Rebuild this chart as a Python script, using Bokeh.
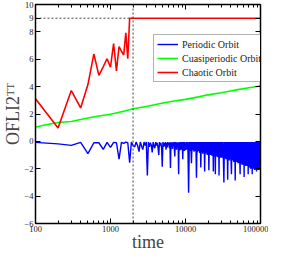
from bokeh.plotting import figure
from bokeh.models import (LogAxis, LinearAxis, FixedTicker, LogTicker, PrintfTickFormatter,
                          CustomJSTickFormatter, Legend, LegendItem, Span, Range1d)
from bokeh.embed import file_html
from bokeh.resources import INLINE

# ---------------- data ----------------
red_t = [100, 200, 300, 400, 500, 600, 700, 800, 900, 1000, 1100, 1200, 1300, 1400,
         1500, 1600, 1700, 1800, 1900, 100000]
red_v = [3.11, 0.98, 3.71, 2.44, 4.15, 6.38, 4.82, 5.45, 6.04, 5.42, 7.15, 5.15, 6.93,
         6.6, 6.31, 7.93, 6.04, 9.0, 9.0, 9.0]

green_t = [100, 150, 200, 300, 400, 500, 700, 1000, 1500, 2000, 3000, 4000, 5000, 7000,
           10000, 15000, 20000, 30000, 40000, 50000, 70000, 100000]
green_v = [1.05, 1.25, 1.38, 1.45, 1.6, 1.71, 1.85, 1.98, 2.2, 2.38, 2.55, 2.7, 2.8, 2.95,
           3.07, 3.25, 3.4, 3.55, 3.68, 3.78, 3.92, 4.05]

blue_t = list(range(100, 10001, 100)) + list(range(10250, 30001, 250)) + list(range(30500, 100001, 500))
blue_v = [
    -0.07, -0.18, -0.29, -0.07, -0.89, -0.1, -0.1, -0.58, -0.07, -0.44,
    -0.07, -0.1, -1.29, -0.07, -0.15, -0.05, -0.1, -1.55, -0.05, -0.3,
    -0.4, -0.05, -0.3, -0.75, -0.05, -0.35, -0.6, -0.05, -0.3, -0.05,
    -2.5, -0.05, -0.4, -0.1, -0.3, -0.8, -0.05, -0.35, -0.5, -0.05,
    -0.3, -0.1, -0.45, -1.0, -0.05, -0.3, -0.1, -0.5, -1.85, -0.05,
    -0.4, -0.1, -0.35, -0.05, -0.6, -0.1, -0.45, -0.05, -0.3, -0.1,
    -0.5, -0.05, -1.95, -0.1, -0.4, -0.05, -0.55, -0.1, -0.35, -0.05,
    -0.5, -1.1, -0.05, -0.45, -0.1, -0.6, -0.05, -0.4, -0.1, -0.55,
    -2.4, -0.05, -0.5, -0.1, -0.65, -0.05, -0.45, -0.1, -0.6, -0.05,
    -0.5, -1.3, -0.05, -0.55, -0.1, -0.7, -0.05, -0.5, -0.1, -0.65,
    # 10250 .. 30000 step 250
    -0.05, -0.6, -0.05, -3.75, -0.05, -0.7, -0.05, -1.6, -0.05, -0.65,
    -0.05, -0.75, -0.05, -0.7, -0.05, -2.65, -0.05, -0.8, -0.05, -0.7,
    -0.05, -0.85, -0.05, -1.9, -0.05, -0.8, -0.05, -0.9, -0.05, -0.8,
    -0.05, -2.2, -0.05, -0.9, -0.05, -0.85, -0.05, -1.0, -0.05, -0.9,
    -0.05, -2.1, -0.05, -0.95, -0.05, -1.0, -0.05, -0.9, -0.05, -1.05,
    -0.05, -1.0, -0.05, -2.2, -0.05, -1.0, -0.05, -1.1, -0.05, -2.4,
    -0.05, -1.05, -0.05, -1.1, -0.05, -1.0, -0.05, -1.15, -0.05, -1.1,
    -0.05, -2.5, -0.05, -1.15, -0.05, -1.2, -0.05, -1.1, -0.05, -1.2,
    # 30500 .. 100000 step 500
    -0.05, -1.2, -0.05, -1.3, -3.0, -0.05, -1.2, -0.05, -1.3, -0.05,
    -1.3, -0.05, -2.8, -0.05, -1.3, -0.05, -1.4, -0.05, -1.3, -0.05,
    -1.4, -2.4, -0.05, -1.4, -0.05, -1.3, -0.05, -1.5, -0.05, -1.4,
    -0.05, -2.85, -0.05, -1.5, -0.05, -1.4, -0.05, -1.5, -0.05, -1.6,
    -0.05, -1.5, -0.05, -1.6, -0.05, -1.5, -2.4, -0.05, -1.6, -0.05,
    -1.5, -0.05, -1.7, -0.05, -1.6, -0.05, -1.7, -0.05, -1.6, -0.05,
    -2.6, -0.05, -1.7, -0.05, -1.6, -0.05, -1.8, -0.05, -1.7, -0.05,
    -1.6, -0.05, -1.8, -0.05, -1.7, -0.05, -2.4, -0.05, -1.8, -0.05,
    -1.7, -0.05, -1.9, -0.05, -1.8, -0.05, -2.0, -0.05, -1.8, -0.05,
    -1.9, -0.05, -2.0, -0.05, -2.4, -0.05, -1.9, -0.05, -2.0, -0.05,
    -1.9, -0.05, -2.0, -0.05, -1.8, -0.05, -2.1, -0.05, -1.9, -0.05,
    -2.0, -0.05, -1.9, -0.05, -2.1, -0.05, -2.2, -0.05, -2.0, -0.05,
    -1.9, -0.05, -2.1, -0.05, -2.0, -0.05, -1.9, -0.05, -2.1, -0.05,
    -2.0, -0.05, -1.9, -0.05, -2.1, -0.05, -2.0, -0.05, -1.9, -2.0,
]

y_ticks = [-6, -4, -2, 0, 2, 4, 6, 8, 9, 10]
x_ticks = [100, 1000, 10000, 100000]
legend_labels = ["Periodic Orbit", "Cuasiperiodic Orbit", "Chaotic Orbit"]
threshold_t = 2000
threshold_v = 9

SERIF = "Liberation Serif"

# ---------------- figure ----------------
p = figure(width=268, height=254, x_axis_type="log", output_backend="svg",
           toolbar_location=None, x_range=Range1d(100, 100000), y_range=Range1d(-6, 10),
           min_border_left=0, min_border_right=8, min_border_top=4, min_border_bottom=0,
           x_axis_label="time", y_axis_label="OFLI2ᵀᵀ")
p.grid.visible = False
p.outline_line_color = "black"
p.background_fill_color = "white"
p.border_fill_color = "white"


def style(ax):
    ax.axis_line_color = "black"
    ax.axis_line_width = 1.5
    ax.major_tick_in = 5
    ax.major_tick_out = 0
    ax.minor_tick_in = 3
    ax.minor_tick_out = 0
    ax.major_tick_line_color = "black"
    ax.minor_tick_line_color = "black"
    ax.major_label_text_font = SERIF
    ax.major_label_text_font_size = "8.5px"
    ax.major_label_text_color = "#222222"
    ax.major_label_standoff = 2
    ax.axis_label_text_font = SERIF
    ax.axis_label_text_font_style = "normal"
    ax.axis_label_text_font_size = "18px"
    ax.axis_label_standoff = 0


blank = CustomJSTickFormatter(code="return ''")

xax = p.xaxis[0]
xax.ticker = LogTicker(mantissas=[1], num_minor_ticks=10)
xax.formatter = PrintfTickFormatter(format="%d")
style(xax)
xax.axis_label_standoff = -3
yax = p.yaxis[0]
yax.ticker = FixedTicker(ticks=y_ticks, minor_ticks=[])
style(yax)
yax.axis_label_standoff = -2

top = LogAxis(ticker=LogTicker(mantissas=[1], num_minor_ticks=10), formatter=blank)
style(top)
top.major_label_standoff = 0
p.add_layout(top, "above")
right = LinearAxis(ticker=FixedTicker(ticks=y_ticks, minor_ticks=[]), formatter=blank)
style(right)
right.major_label_standoff = 0
p.add_layout(right, "right")

# reference lines
p.line([100, threshold_t], [threshold_v, threshold_v], line_color="#444444",
       line_dash="2 2", line_width=1)
p.add_layout(Span(location=threshold_t, dimension="height", line_color="#444444",
                  line_dash="2 2", line_width=1))

rb = p.line(blue_t, blue_v, line_color="#0000ff", line_width=1.4)
rg = p.line(green_t, green_v, line_color="#00ff00", line_width=1.6)
rr = p.line(red_t, red_v, line_color="#ff0000", line_width=1.6)

legend = Legend(items=[LegendItem(label=legend_labels[0], renderers=[rb]),
                       LegendItem(label=legend_labels[1], renderers=[rg]),
                       LegendItem(label=legend_labels[2], renderers=[rr])],
                location=(118, 141))
legend.label_text_font = SERIF
legend.label_text_font_size = "10px"
legend.label_text_color = "#222222"
legend.label_height = 12
legend.glyph_height = 12
legend.glyph_width = 21
legend.label_standoff = 4
legend.spacing = 2
legend.padding = 3
legend.margin = 0
legend.border_line_color = "#666666"
legend.border_line_width = 1
legend.background_fill_alpha = 1
p.add_layout(legend, "center")

open("out.html", "w").write(file_html(p, INLINE))
